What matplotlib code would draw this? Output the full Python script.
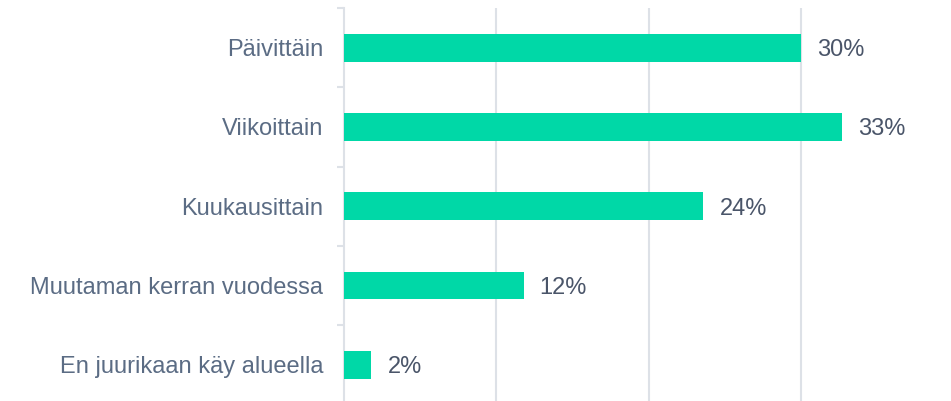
import matplotlib.pyplot as plt
import numpy as np

plt.rcParams['font.family'] = ['Liberation Sans', 'DejaVu Sans']

# categories and shares (%)
categories = ["Päivittäin", "Viikoittain", "Kuukausittain",
              "Muutaman kerran vuodessa", "En juurikaan käy alueella"]
shares = [30.0, 32.7, 23.6, 11.8, 1.8]

bar_color = "#00D8A7"
grid_color = "#DDE1E7"
label_color = "#5B6C84"
value_color = "#4A5569"

fig = plt.figure(figsize=(9.51, 4.01), dpi=100)
ax = fig.add_axes([344 / 951, 0.0, 1 - 344 / 951, 1 - 8 / 401])

y = np.arange(len(categories))
ax.barh(y, shares, height=0.35, color=bar_color, zorder=3)

# value labels right of each bar
for yi, v in zip(y, shares):
    ax.text(v + 1.05, yi, f"{round(v)}%", va="center_baseline", ha="left",
            fontsize=17, color=value_color)

ax.set_xlim(0, 607 / 15.233)
ax.set_ylim(-0.5 + 393 / 79.3, -0.5)

ax.set_xticks([10, 20, 30])
ax.xaxis.grid(True, color=grid_color, linewidth=1.5, zorder=0)
ax.tick_params(axis="x", length=0, labelbottom=False)

ax.set_yticks(y)
ax.set_yticklabels(categories, fontsize=17, color=label_color)
ax.tick_params(axis="y", which="major", length=0, pad=15)
ax.set_yticks(np.arange(-0.5, len(categories) - 0.5), minor=True)
ax.tick_params(axis="y", which="minor", length=5, width=1.5, color=grid_color)

for side in ["top", "right", "bottom"]:
    ax.spines[side].set_visible(False)
ax.spines["left"].set_color(grid_color)
ax.spines["left"].set_linewidth(1.5)

fig.savefig("out.png", dpi=100)
